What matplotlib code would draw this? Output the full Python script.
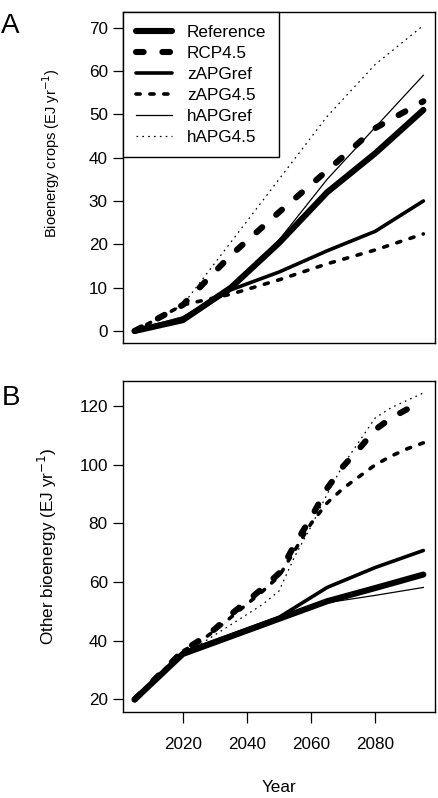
import matplotlib
matplotlib.use("Agg")
import matplotlib.pyplot as plt

plt.rcParams['font.family'] = ['Liberation Sans', 'DejaVu Sans']
plt.rcParams['lines.scale_dashes'] = False

# Panel A: bioenergy crops (EJ/yr), 15-year steps
years_a = [2005, 2020, 2035, 2050, 2065, 2080, 2095]
crops_reference = [0, 2.5, 10.0, 20.3, 32.0, 41.0, 51.0]
crops_rcp45 = [0, 6.0, 17.5, 27.4, 37.0, 46.8, 53.0]
crops_zapgref = [0, 3.0, 9.5, 13.6, 18.5, 23.0, 30.0]
crops_zapg45 = [0, 6.0, 8.5, 11.8, 15.5, 18.7, 22.4]
crops_hapgref = [0, 3.0, 10.0, 21.0, 35.0, 47.0, 59.0]
crops_hapg45 = [0, 6.0, 20.5, 35.0, 49.5, 61.5, 70.5]

# Panel B: other bioenergy (EJ/yr)
years_b = [2005, 2020, 2035, 2050, 2065, 2080, 2095]
other_reference = [20, 35.5, 41.5, 47.5, 53.5, 58.0, 62.6]
other_zapgref = [20, 36.0, 42.0, 48.0, 58.2, 65.0, 70.8]
other_hapgref = [20, 36.0, 42.0, 47.5, 53.0, 55.5, 58.2]

years_b5 = [2005, 2020, 2025, 2030, 2035, 2040, 2045, 2050, 2055,
            2060, 2065, 2070, 2075, 2080, 2085, 2090, 2095]
other_rcp45 = [20, 36.5, 40.0, 44.0, 49.0, 53.5, 58.0, 63.0, 73.0,
               82.0, 92.0, 99.5, 105.5, 112.0, 116.0, 119.0, 121.5]
other_zapg45 = [20, 36.5, 39.5, 43.5, 48.0, 52.5, 57.0, 62.0, 71.0,
                80.0, 87.0, 92.0, 96.0, 100.0, 103.0, 105.5, 107.5]
other_hapg45 = [20, 36.0, 38.5, 42.0, 45.5, 49.0, 52.5, 57.0, 69.0,
                79.0, 90.0, 100.0, 108.0, 116.0, 119.5, 122.0, 124.5]

labels = ['Reference', 'RCP4.5', 'zAPGref', 'zAPG4.5', 'hAPGref', 'hAPG4.5']

# line styles (width in pt, dash pattern in pt)
styles = [
    dict(lw=4.4, ls='-', solid_capstyle='round', solid_joinstyle='round'),
    dict(lw=4.4, dashes=(5.5, 13.5), dash_capstyle='round'),
    dict(lw=2.6, ls='-', solid_capstyle='round', solid_joinstyle='round'),
    dict(lw=2.6, dashes=(3.0, 7.0), dash_capstyle='round'),
    dict(lw=0.9, ls='-'),
    dict(lw=0.9, dashes=(1.2, 3.0)),
]

fs = 12.3

fig = plt.figure(figsize=(4.38, 7.98), dpi=100)
ax1 = fig.add_axes([0.281, 0.570, 0.712, 0.415])
ax2 = fig.add_axes([0.281, 0.108, 0.712, 0.415])

series_a = [crops_reference, crops_rcp45, crops_zapgref, crops_zapg45,
            crops_hapgref, crops_hapg45]
for vals, lab, st in zip(series_a, labels, styles):
    ax1.plot(years_a, vals, color='black', label=lab, **st)

series_b = [(years_b, other_reference), (years_b5, other_rcp45),
            (years_b, other_zapgref), (years_b5, other_zapg45),
            (years_b, other_hapgref), (years_b5, other_hapg45)]
for (yrs, vals), lab, st in zip(series_b, labels, styles):
    ax2.plot(yrs, vals, color='black', label=lab, **st)

for ax in (ax1, ax2):
    ax.set_xlim(2001.4, 2098.6)
    ax.set_xticks([2020, 2040, 2060, 2080])
    ax.tick_params(direction='out', length=7, width=0.9, labelsize=fs,
                   pad=4)
    for s in ax.spines.values():
        s.set_linewidth(1.0)

ax1.set_ylim(-2.8, 73.6)
ax1.set_yticks(range(0, 71, 10))
ax1.tick_params(axis='x', labelbottom=False, length=0)
ax1.set_ylabel(r'Bioenergy crops (EJ yr$^{-1}$)', fontsize=10.5)
ax1.yaxis.set_label_coords(-0.196, 0.573)

ax2.set_ylim(15.8, 128.7)
ax2.set_yticks(range(20, 121, 20))
ax2.tick_params(axis='x', length=8, pad=10)
ax2.set_ylabel(r'Other bioenergy (EJ yr$^{-1}$)', fontsize=fs)
ax2.yaxis.set_label_coords(-0.205, 0.5)
ax2.set_xlabel('Year', fontsize=fs)
ax2.xaxis.set_label_coords(0.5, -0.205)

leg = ax1.legend(loc='upper left', bbox_to_anchor=(0, 1), borderaxespad=0,
                 fancybox=False, edgecolor='black', framealpha=1,
                 fontsize=fs, handlelength=2.1, handletextpad=0.88,
                 labelspacing=0.35, borderpad=0.75)
leg.get_frame().set_linewidth(1.0)

fig.text(0.003, 0.9586, 'A', fontsize=20, va='baseline', ha='left')
fig.text(0.003, 0.4925, 'B', fontsize=20, va='baseline', ha='left')

fig.savefig('out.png', dpi=100)
